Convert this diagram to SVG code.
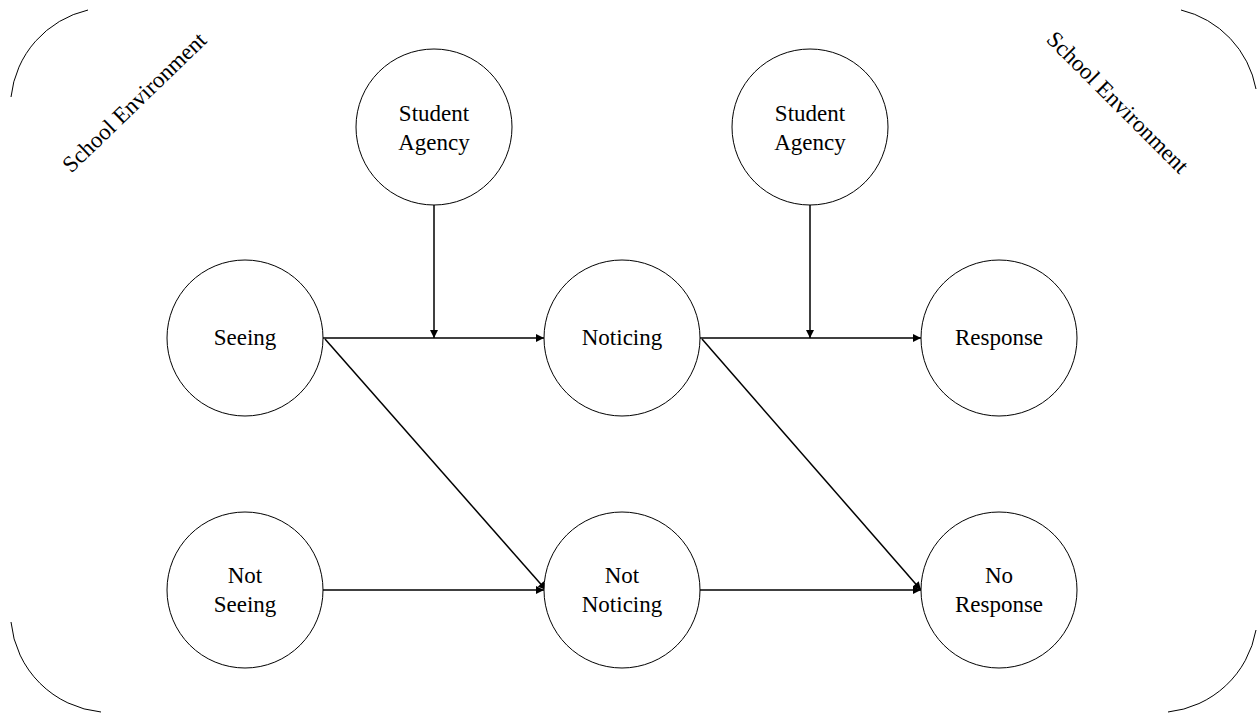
<svg xmlns="http://www.w3.org/2000/svg" width="1257" height="713" viewBox="0 0 1257 713">
<style>
.node circle{fill:#fff;stroke:#000;stroke-width:1}
text{font-family:"Liberation Serif","Times New Roman",serif;font-size:23px;fill:#000;text-anchor:middle}
.edge{stroke:#000;stroke-width:1.5;fill:none;marker-end:url(#ah)}
.env{stroke:#000;stroke-width:1;fill:none}
</style>
<defs>
<marker id="ah" viewBox="0 0 10 10" refX="10" refY="5" markerWidth="9" markerHeight="8" markerUnits="userSpaceOnUse" orient="auto"><path d="M0,0 L10,5 L0,10 z" fill="#000"/></marker>
</defs>
<rect width="1257" height="713" fill="#fff"/>
<g id="environment">
<path class="env" d="M88,10 A100,100 0 0 0 11,97"/>
<path class="env" d="M1181,10 A100,100 0 0 1 1256,89"/>
<path class="env" d="M11,622 A100,100 0 0 0 101,712"/>
<path class="env" d="M1256,630 A100,100 0 0 1 1168,712"/>
<text transform="translate(134,102) rotate(-44)" dy="8">School Environment</text>
<text transform="translate(1118,102) rotate(45)" dy="8">School Environment</text>
</g>
<g id="connectors">
<line class="edge" x1="434" y1="205" x2="434" y2="338"/>
<line class="edge" x1="810" y1="205" x2="810" y2="338"/>
<line class="edge" x1="323" y1="338" x2="544" y2="338"/>
<line class="edge" x1="700" y1="338" x2="921" y2="338"/>
<line class="edge" x1="325" y1="339" x2="546" y2="590"/>
<line class="edge" x1="702" y1="339" x2="921" y2="590"/>
<line class="edge" x1="323" y1="590" x2="544" y2="590"/>
<line class="edge" x1="700" y1="590" x2="921" y2="590"/>
</g>
<g id="agency1" class="node"><circle cx="434" cy="127" r="78"/><text x="434" y="121">Student</text><text x="434" y="150">Agency</text></g>
<g id="agency2" class="node"><circle cx="810" cy="127" r="78"/><text x="810" y="121">Student</text><text x="810" y="150">Agency</text></g>
<g id="seeing" class="node"><circle cx="245" cy="338" r="78"/><text x="245" y="345">Seeing</text></g>
<g id="noticing" class="node"><circle cx="622" cy="338" r="78"/><text x="622" y="345">Noticing</text></g>
<g id="response" class="node"><circle cx="999" cy="338" r="78"/><text x="999" y="345">Response</text></g>
<g id="notseeing" class="node"><circle cx="245" cy="590" r="78"/><text x="245" y="583">Not</text><text x="245" y="612">Seeing</text></g>
<g id="notnoticing" class="node"><circle cx="622" cy="590" r="78"/><text x="622" y="583">Not</text><text x="622" y="612">Noticing</text></g>
<g id="noresponse" class="node"><circle cx="999" cy="590" r="78"/><text x="999" y="583">No</text><text x="999" y="612">Response</text></g>
</svg>
